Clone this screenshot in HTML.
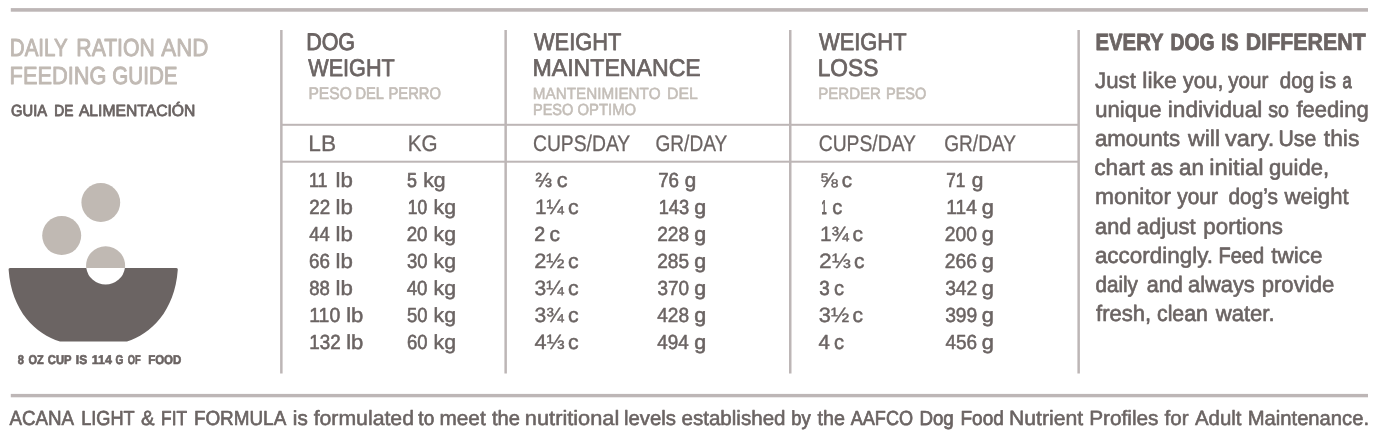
<!DOCTYPE html>
<html lang="en"><head><meta charset="utf-8"><title>Daily Ration and Feeding Guide</title>
<style>
html,body{margin:0;padding:0;background:#fff}
body{width:1400px;height:434px;overflow:hidden}
svg{display:block}
text{font-family:"Liberation Sans",sans-serif;white-space:pre;text-rendering:geometricPrecision}
</style></head><body>
<svg width="1400" height="434" viewBox="0 0 1400 434">
<rect width="1400" height="434" fill="#fff"/>
<g fill="#bdb6b6">
<rect x="10.8" y="8.1" width="1357.2" height="3.6"/>
<rect x="10.8" y="393.9" width="1357.2" height="3.4"/>
<rect x="280.1" y="30" width="2.5" height="343.5"/>
<rect x="504.4" y="30" width="2.5" height="343.5"/>
<rect x="789.0" y="30" width="2.5" height="343.5"/>
<rect x="1077.4" y="30" width="2.5" height="343.5"/>
<rect x="281" y="123.8" width="797" height="2"/>
<rect x="281" y="160.7" width="797" height="2"/>
</g>
<g fill="#c0b9b3"><circle cx="100.8" cy="202.5" r="19.4"/><circle cx="61.7" cy="235.6" r="19.5"/><path d="M86.24 268 A19.5 19.5 0 1 1 124.96 268 Z"/></g>
<path fill="#6b6463" d="M10 268 H176.4 Q178 268 177.8 269.6 C174.8 311.7 150.5 334.2 127 341.6 H60 C36 334.2 11.6 311.7 8.6 269.6 Q8.4 268 10 268 Z"/>
<path fill="#fff" d="M86.3 267.9 H124.9 A19.5 19.5 0 0 1 86.3 267.9 Z"/>
<text fill="#c0b9b3" stroke="#c0b9b3" stroke-linejoin="round"><tspan id="t0" x="9.87" y="56" font-size="24.61" stroke-width="0.97" textLength="57.78" lengthAdjust="spacingAndGlyphs">DAILY</tspan> <tspan id="t1" x="76.35" y="56" font-size="24.65" stroke-width="0.94" textLength="78.40" lengthAdjust="spacingAndGlyphs">RATION</tspan> <tspan id="t2" x="161.25" y="56" font-size="24.84" stroke-width="0.81" textLength="47.20" lengthAdjust="spacingAndGlyphs">AND</tspan></text>
<text fill="#c0b9b3" stroke="#c0b9b3" stroke-linejoin="round"><tspan id="t3" x="9.61" y="84" font-size="24.73" stroke-width="0.88" textLength="96.98" lengthAdjust="spacingAndGlyphs">FEEDING</tspan> <tspan id="t4" x="112.34" y="84" font-size="24.63" stroke-width="0.96" textLength="65.17" lengthAdjust="spacingAndGlyphs">GUIDE</tspan></text>
<text fill="#6b6463" stroke="#6b6463" stroke-linejoin="round"><tspan id="t5" x="11.10" y="116" font-size="16.18" stroke-width="0.87" textLength="36.00" lengthAdjust="spacingAndGlyphs">GUIA</tspan> <tspan id="t6" x="54.21" y="116" font-size="16.04" stroke-width="0.97" textLength="19.10" lengthAdjust="spacingAndGlyphs">DE</tspan> <tspan id="t7" x="78.90" y="116" font-size="16.27" stroke-width="0.81" textLength="116.50" lengthAdjust="spacingAndGlyphs">ALIMENTACIÓN</tspan></text>
<text fill="#6b6463" stroke="#6b6463" stroke-linejoin="round" font-weight="700"><tspan id="t8" x="17.85" y="364" font-size="12.73" stroke-width="0.64" textLength="6.15" lengthAdjust="spacingAndGlyphs">8</tspan> <tspan id="t9" x="28.39" y="364" font-size="12.73" stroke-width="0.64" textLength="15.26" lengthAdjust="spacingAndGlyphs">OZ</tspan> <tspan id="t10" x="47.85" y="364" font-size="12.73" stroke-width="0.64" textLength="23.75" lengthAdjust="spacingAndGlyphs">CUP</tspan> <tspan id="t11" x="75.82" y="364" font-size="12.73" stroke-width="0.64" textLength="11.29" lengthAdjust="spacingAndGlyphs">IS</tspan> <tspan id="t12" x="91.64" y="364" font-size="12.82" stroke-width="0.58" textLength="20.25" lengthAdjust="spacingAndGlyphs">114</tspan> <tspan id="t13" x="115.55" y="364" font-size="12.73" stroke-width="0.64" textLength="7.88" lengthAdjust="spacingAndGlyphs">G</tspan> <tspan id="t14" x="127.85" y="364" font-size="12.73" stroke-width="0.64" textLength="12.96" lengthAdjust="spacingAndGlyphs">OF</tspan> <tspan id="t15" x="148.14" y="364" font-size="12.73" stroke-width="0.64" textLength="33.27" lengthAdjust="spacingAndGlyphs">FOOD</tspan></text>
<text fill="#6b6463" stroke="#6b6463" stroke-linejoin="round"><tspan id="t16" x="306.18" y="50" font-size="24.01" stroke-width="0.88" textLength="48.89" lengthAdjust="spacingAndGlyphs">DOG</tspan></text>
<text fill="#6b6463" stroke="#6b6463" stroke-linejoin="round"><tspan id="t17" x="308.25" y="76" font-size="24.15" stroke-width="0.78" textLength="86.50" lengthAdjust="spacingAndGlyphs">WEIGHT</tspan></text>
<text fill="#c4beb8" stroke="#c4beb8" stroke-linejoin="round"><tspan id="t18" x="308.46" y="99" font-size="16.92" stroke-width="0.66" textLength="43.31" lengthAdjust="spacingAndGlyphs">PESO</tspan> <tspan id="t19" x="355.47" y="99" font-size="16.83" stroke-width="0.72" textLength="28.54" lengthAdjust="spacingAndGlyphs">DEL</tspan> <tspan id="t20" x="388.48" y="99" font-size="16.85" stroke-width="0.71" textLength="52.54" lengthAdjust="spacingAndGlyphs">PERRO</tspan></text>
<text fill="#6b6463" stroke="#6b6463" stroke-linejoin="round"><tspan id="t21" x="534.00" y="50" font-size="24.17" stroke-width="0.77" textLength="87.25" lengthAdjust="spacingAndGlyphs">WEIGHT</tspan></text>
<text fill="#6b6463" stroke="#6b6463" stroke-linejoin="round"><tspan id="t22" x="532.48" y="76" font-size="24.26" stroke-width="0.71" textLength="168.28" lengthAdjust="spacingAndGlyphs">MAINTENANCE</tspan></text>
<text fill="#c4beb8" stroke="#c4beb8" stroke-linejoin="round"><tspan id="t23" x="532.84" y="99" font-size="16.18" stroke-width="0.57" textLength="127.67" lengthAdjust="spacingAndGlyphs">MANTENIMIENTO</tspan> <tspan id="t24" x="666.96" y="99" font-size="16.19" stroke-width="0.56" textLength="30.81" lengthAdjust="spacingAndGlyphs">DEL</tspan></text>
<text fill="#c4beb8" stroke="#c4beb8" stroke-linejoin="round"><tspan id="t25" x="532.97" y="115" font-size="16.07" stroke-width="0.65" textLength="40.40" lengthAdjust="spacingAndGlyphs">PESO</tspan> <tspan id="t26" x="577.49" y="115" font-size="16.13" stroke-width="0.60" textLength="58.56" lengthAdjust="spacingAndGlyphs">OPTIMO</tspan></text>
<text fill="#6b6463" stroke="#6b6463" stroke-linejoin="round"><tspan id="t27" x="819.00" y="50" font-size="24.18" stroke-width="0.77" textLength="87.50" lengthAdjust="spacingAndGlyphs">WEIGHT</tspan></text>
<text fill="#6b6463" stroke="#6b6463" stroke-linejoin="round"><tspan id="t28" x="817.69" y="76" font-size="24.17" stroke-width="0.77" textLength="60.59" lengthAdjust="spacingAndGlyphs">LOSS</tspan></text>
<text fill="#c4beb8" stroke="#c4beb8" stroke-linejoin="round"><tspan id="t29" x="818.28" y="99" font-size="16.27" stroke-width="0.61" textLength="62.73" lengthAdjust="spacingAndGlyphs">PERDER</tspan> <tspan id="t30" x="885.97" y="99" font-size="16.19" stroke-width="0.66" textLength="40.40" lengthAdjust="spacingAndGlyphs">PESO</tspan></text>
<text fill="#6b6463" stroke="#6b6463" stroke-linejoin="round"><tspan id="t31" x="308.33" y="151" font-size="22.43" stroke-width="0.27" textLength="27.78" lengthAdjust="spacingAndGlyphs">LB</tspan></text>
<text fill="#6b6463" stroke="#6b6463" stroke-linejoin="round"><tspan id="t32" x="407.83" y="151" font-size="22.43" stroke-width="0.27" textLength="29.82" lengthAdjust="spacingAndGlyphs">KG</tspan></text>
<text fill="#6b6463" stroke="#6b6463" stroke-linejoin="round"><tspan id="t33" x="532.99" y="151" font-size="22.43" stroke-width="0.27" textLength="97.26" lengthAdjust="spacingAndGlyphs">CUPS/DAY</tspan></text>
<text fill="#6b6463" stroke="#6b6463" stroke-linejoin="round"><tspan id="t34" x="655.49" y="151" font-size="22.43" stroke-width="0.27" textLength="71.76" lengthAdjust="spacingAndGlyphs">GR/DAY</tspan></text>
<text fill="#6b6463" stroke="#6b6463" stroke-linejoin="round"><tspan id="t35" x="818.74" y="151" font-size="22.43" stroke-width="0.27" textLength="97.26" lengthAdjust="spacingAndGlyphs">CUPS/DAY</tspan></text>
<text fill="#6b6463" stroke="#6b6463" stroke-linejoin="round"><tspan id="t36" x="944.24" y="151" font-size="22.43" stroke-width="0.27" textLength="71.76" lengthAdjust="spacingAndGlyphs">GR/DAY</tspan></text>
<text fill="#6b6463" stroke="#6b6463" stroke-linejoin="round"><tspan id="t37" x="309.06" y="187" font-size="20.21" stroke-width="0.69" textLength="18.48" lengthAdjust="spacingAndGlyphs">11</tspan> <tspan id="t38" x="335.55" y="187" font-size="20.56" stroke-width="0.46" textLength="17.34" lengthAdjust="spacingAndGlyphs">lb</tspan></text>
<text fill="#6b6463" stroke="#6b6463" stroke-linejoin="round"><tspan id="t39" x="406.96" y="187" font-size="20.18" stroke-width="0.72" textLength="9.93" lengthAdjust="spacingAndGlyphs">5</tspan> <tspan id="t40" x="423.19" y="187" font-size="20.51" stroke-width="0.49" textLength="22.42" lengthAdjust="spacingAndGlyphs">kg</tspan></text>
<text fill="#6b6463" stroke="#6b6463" stroke-linejoin="round"><tspan id="t41" x="535.40" y="187" font-size="20.50" stroke-width="0.49" textLength="16.25" lengthAdjust="spacingAndGlyphs">⅔</tspan> <tspan id="t42" x="556.79" y="187" font-size="20.54" stroke-width="0.47" textLength="10.81" lengthAdjust="spacingAndGlyphs">c</tspan></text>
<text fill="#6b6463" stroke="#6b6463" stroke-linejoin="round"><tspan id="t43" x="658.15" y="187" font-size="20.35" stroke-width="0.60" textLength="20.84" lengthAdjust="spacingAndGlyphs">76</tspan> <tspan id="t44" x="684.72" y="187" font-size="20.39" stroke-width="0.57" textLength="11.48" lengthAdjust="spacingAndGlyphs">g</tspan></text>
<text fill="#6b6463" stroke="#6b6463" stroke-linejoin="round"><tspan id="t45" x="819.87" y="187" font-size="20.60" stroke-width="0.43" textLength="18.06" lengthAdjust="spacingAndGlyphs">⅝</tspan> <tspan id="t46" x="841.78" y="187" font-size="20.45" stroke-width="0.53" textLength="10.29" lengthAdjust="spacingAndGlyphs">c</tspan></text>
<text fill="#6b6463" stroke="#6b6463" stroke-linejoin="round"><tspan id="t47" x="946.17" y="187" font-size="20.18" stroke-width="0.72" textLength="19.02" lengthAdjust="spacingAndGlyphs">71</tspan> <tspan id="t48" x="971.71" y="187" font-size="20.41" stroke-width="0.56" textLength="11.65" lengthAdjust="spacingAndGlyphs">g</tspan></text>
<text fill="#6b6463" stroke="#6b6463" stroke-linejoin="round"><tspan id="t49" x="309.31" y="214" font-size="20.35" stroke-width="0.60" textLength="20.84" lengthAdjust="spacingAndGlyphs">22</tspan> <tspan id="t50" x="335.55" y="214" font-size="20.56" stroke-width="0.46" textLength="17.34" lengthAdjust="spacingAndGlyphs">lb</tspan></text>
<text fill="#6b6463" stroke="#6b6463" stroke-linejoin="round"><tspan id="t51" x="407.72" y="214" font-size="20.20" stroke-width="0.70" textLength="19.37" lengthAdjust="spacingAndGlyphs">10</tspan> <tspan id="t52" x="433.53" y="214" font-size="20.51" stroke-width="0.49" textLength="22.45" lengthAdjust="spacingAndGlyphs">kg</tspan></text>
<text fill="#6b6463" stroke="#6b6463" stroke-linejoin="round"><tspan id="t53" x="534.91" y="214" font-size="20.58" stroke-width="0.44" textLength="28.88" lengthAdjust="spacingAndGlyphs">1¼</tspan> <tspan id="t54" x="567.95" y="214" font-size="20.52" stroke-width="0.48" textLength="10.62" lengthAdjust="spacingAndGlyphs">c</tspan></text>
<text fill="#6b6463" stroke="#6b6463" stroke-linejoin="round"><tspan id="t55" x="658.64" y="214" font-size="20.31" stroke-width="0.62" textLength="30.39" lengthAdjust="spacingAndGlyphs">143</tspan> <tspan id="t56" x="694.24" y="214" font-size="20.41" stroke-width="0.56" textLength="11.94" lengthAdjust="spacingAndGlyphs">g</tspan></text>
<text fill="#6b6463" stroke="#6b6463" stroke-linejoin="round"><tspan id="t57" x="821.59" y="214" font-size="19.82" stroke-width="0.96" textLength="5.24" lengthAdjust="spacingAndGlyphs">1</tspan> <tspan id="t58" x="832.25" y="214" font-size="20.45" stroke-width="0.53" textLength="10.01" lengthAdjust="spacingAndGlyphs">c</tspan></text>
<text fill="#6b6463" stroke="#6b6463" stroke-linejoin="round"><tspan id="t59" x="946.34" y="214" font-size="20.41" stroke-width="0.56" textLength="30.42" lengthAdjust="spacingAndGlyphs">114</tspan> <tspan id="t60" x="981.74" y="214" font-size="20.43" stroke-width="0.55" textLength="12.07" lengthAdjust="spacingAndGlyphs">g</tspan></text>
<text fill="#6b6463" stroke="#6b6463" stroke-linejoin="round"><tspan id="t61" x="309.20" y="241" font-size="20.40" stroke-width="0.56" textLength="20.41" lengthAdjust="spacingAndGlyphs">44</tspan> <tspan id="t62" x="335.55" y="241" font-size="20.56" stroke-width="0.46" textLength="17.34" lengthAdjust="spacingAndGlyphs">lb</tspan></text>
<text fill="#6b6463" stroke="#6b6463" stroke-linejoin="round"><tspan id="t63" x="406.66" y="241" font-size="20.37" stroke-width="0.59" textLength="20.87" lengthAdjust="spacingAndGlyphs">20</tspan> <tspan id="t64" x="433.53" y="241" font-size="20.51" stroke-width="0.49" textLength="22.45" lengthAdjust="spacingAndGlyphs">kg</tspan></text>
<text fill="#6b6463" stroke="#6b6463" stroke-linejoin="round"><tspan id="t65" x="534.27" y="241" font-size="20.34" stroke-width="0.61" textLength="10.96" lengthAdjust="spacingAndGlyphs">2</tspan> <tspan id="t66" x="549.64" y="241" font-size="20.47" stroke-width="0.52" textLength="10.44" lengthAdjust="spacingAndGlyphs">c</tspan></text>
<text fill="#6b6463" stroke="#6b6463" stroke-linejoin="round"><tspan id="t67" x="657.22" y="241" font-size="20.42" stroke-width="0.55" textLength="31.80" lengthAdjust="spacingAndGlyphs">228</tspan> <tspan id="t68" x="694.24" y="241" font-size="20.41" stroke-width="0.56" textLength="11.94" lengthAdjust="spacingAndGlyphs">g</tspan></text>
<text fill="#6b6463" stroke="#6b6463" stroke-linejoin="round"><tspan id="t69" x="819.91" y="241" font-size="20.58" stroke-width="0.44" textLength="28.88" lengthAdjust="spacingAndGlyphs">1¾</tspan> <tspan id="t70" x="852.45" y="241" font-size="20.51" stroke-width="0.49" textLength="10.48" lengthAdjust="spacingAndGlyphs">c</tspan></text>
<text fill="#6b6463" stroke="#6b6463" stroke-linejoin="round"><tspan id="t71" x="944.87" y="241" font-size="20.44" stroke-width="0.53" textLength="32.15" lengthAdjust="spacingAndGlyphs">200</tspan> <tspan id="t72" x="981.74" y="241" font-size="20.43" stroke-width="0.55" textLength="12.07" lengthAdjust="spacingAndGlyphs">g</tspan></text>
<text fill="#6b6463" stroke="#6b6463" stroke-linejoin="round"><tspan id="t73" x="309.02" y="268" font-size="20.37" stroke-width="0.59" textLength="20.86" lengthAdjust="spacingAndGlyphs">66</tspan> <tspan id="t74" x="335.55" y="268" font-size="20.56" stroke-width="0.46" textLength="17.34" lengthAdjust="spacingAndGlyphs">lb</tspan></text>
<text fill="#6b6463" stroke="#6b6463" stroke-linejoin="round"><tspan id="t75" x="406.93" y="268" font-size="20.37" stroke-width="0.59" textLength="20.59" lengthAdjust="spacingAndGlyphs">30</tspan> <tspan id="t76" x="433.53" y="268" font-size="20.51" stroke-width="0.49" textLength="22.45" lengthAdjust="spacingAndGlyphs">kg</tspan></text>
<text fill="#6b6463" stroke="#6b6463" stroke-linejoin="round"><tspan id="t77" x="534.22" y="268" font-size="20.65" stroke-width="0.39" textLength="30.35" lengthAdjust="spacingAndGlyphs">2½</tspan> <tspan id="t78" x="567.95" y="268" font-size="20.52" stroke-width="0.48" textLength="10.62" lengthAdjust="spacingAndGlyphs">c</tspan></text>
<text fill="#6b6463" stroke="#6b6463" stroke-linejoin="round"><tspan id="t79" x="657.22" y="268" font-size="20.42" stroke-width="0.55" textLength="31.80" lengthAdjust="spacingAndGlyphs">285</tspan> <tspan id="t80" x="694.24" y="268" font-size="20.41" stroke-width="0.56" textLength="11.94" lengthAdjust="spacingAndGlyphs">g</tspan></text>
<text fill="#6b6463" stroke="#6b6463" stroke-linejoin="round"><tspan id="t81" x="818.96" y="268" font-size="20.72" stroke-width="0.35" textLength="31.80" lengthAdjust="spacingAndGlyphs">2⅓</tspan> <tspan id="t82" x="854.14" y="268" font-size="20.47" stroke-width="0.52" textLength="10.44" lengthAdjust="spacingAndGlyphs">c</tspan></text>
<text fill="#6b6463" stroke="#6b6463" stroke-linejoin="round"><tspan id="t83" x="944.87" y="268" font-size="20.44" stroke-width="0.53" textLength="32.15" lengthAdjust="spacingAndGlyphs">266</tspan> <tspan id="t84" x="981.74" y="268" font-size="20.43" stroke-width="0.55" textLength="12.07" lengthAdjust="spacingAndGlyphs">g</tspan></text>
<text fill="#6b6463" stroke="#6b6463" stroke-linejoin="round"><tspan id="t85" x="309.27" y="295" font-size="20.37" stroke-width="0.59" textLength="20.60" lengthAdjust="spacingAndGlyphs">88</tspan> <tspan id="t86" x="335.55" y="295" font-size="20.56" stroke-width="0.46" textLength="17.34" lengthAdjust="spacingAndGlyphs">lb</tspan></text>
<text fill="#6b6463" stroke="#6b6463" stroke-linejoin="round"><tspan id="t87" x="406.74" y="295" font-size="20.39" stroke-width="0.57" textLength="20.78" lengthAdjust="spacingAndGlyphs">40</tspan> <tspan id="t88" x="433.53" y="295" font-size="20.51" stroke-width="0.49" textLength="22.45" lengthAdjust="spacingAndGlyphs">kg</tspan></text>
<text fill="#6b6463" stroke="#6b6463" stroke-linejoin="round"><tspan id="t89" x="534.50" y="295" font-size="20.65" stroke-width="0.39" textLength="29.30" lengthAdjust="spacingAndGlyphs">3¼</tspan> <tspan id="t90" x="567.95" y="295" font-size="20.52" stroke-width="0.48" textLength="10.62" lengthAdjust="spacingAndGlyphs">c</tspan></text>
<text fill="#6b6463" stroke="#6b6463" stroke-linejoin="round"><tspan id="t91" x="657.44" y="295" font-size="20.43" stroke-width="0.54" textLength="31.58" lengthAdjust="spacingAndGlyphs">370</tspan> <tspan id="t92" x="694.24" y="295" font-size="20.41" stroke-width="0.56" textLength="11.94" lengthAdjust="spacingAndGlyphs">g</tspan></text>
<text fill="#6b6463" stroke="#6b6463" stroke-linejoin="round"><tspan id="t93" x="819.27" y="295" font-size="20.32" stroke-width="0.62" textLength="10.48" lengthAdjust="spacingAndGlyphs">3</tspan> <tspan id="t94" x="833.96" y="295" font-size="20.45" stroke-width="0.53" textLength="10.01" lengthAdjust="spacingAndGlyphs">c</tspan></text>
<text fill="#6b6463" stroke="#6b6463" stroke-linejoin="round"><tspan id="t95" x="945.13" y="295" font-size="20.44" stroke-width="0.53" textLength="32.15" lengthAdjust="spacingAndGlyphs">342</tspan> <tspan id="t96" x="981.74" y="295" font-size="20.43" stroke-width="0.55" textLength="12.07" lengthAdjust="spacingAndGlyphs">g</tspan></text>
<text fill="#6b6463" stroke="#6b6463" stroke-linejoin="round"><tspan id="t97" x="309.29" y="322" font-size="20.43" stroke-width="0.55" textLength="30.90" lengthAdjust="spacingAndGlyphs">110</tspan> <tspan id="t98" x="346.21" y="322" font-size="20.54" stroke-width="0.47" textLength="17.17" lengthAdjust="spacingAndGlyphs">lb</tspan></text>
<text fill="#6b6463" stroke="#6b6463" stroke-linejoin="round"><tspan id="t99" x="406.97" y="322" font-size="20.35" stroke-width="0.60" textLength="20.55" lengthAdjust="spacingAndGlyphs">50</tspan> <tspan id="t100" x="433.53" y="322" font-size="20.51" stroke-width="0.49" textLength="22.45" lengthAdjust="spacingAndGlyphs">kg</tspan></text>
<text fill="#6b6463" stroke="#6b6463" stroke-linejoin="round"><tspan id="t101" x="534.50" y="322" font-size="20.65" stroke-width="0.39" textLength="29.30" lengthAdjust="spacingAndGlyphs">3¾</tspan> <tspan id="t102" x="567.95" y="322" font-size="20.52" stroke-width="0.48" textLength="10.62" lengthAdjust="spacingAndGlyphs">c</tspan></text>
<text fill="#6b6463" stroke="#6b6463" stroke-linejoin="round"><tspan id="t103" x="657.24" y="322" font-size="20.45" stroke-width="0.53" textLength="31.77" lengthAdjust="spacingAndGlyphs">428</tspan> <tspan id="t104" x="694.24" y="322" font-size="20.41" stroke-width="0.56" textLength="11.94" lengthAdjust="spacingAndGlyphs">g</tspan></text>
<text fill="#6b6463" stroke="#6b6463" stroke-linejoin="round"><tspan id="t105" x="818.87" y="322" font-size="20.65" stroke-width="0.39" textLength="30.34" lengthAdjust="spacingAndGlyphs">3½</tspan> <tspan id="t106" x="852.45" y="322" font-size="20.51" stroke-width="0.49" textLength="10.48" lengthAdjust="spacingAndGlyphs">c</tspan></text>
<text fill="#6b6463" stroke="#6b6463" stroke-linejoin="round"><tspan id="t107" x="945.13" y="322" font-size="20.44" stroke-width="0.53" textLength="32.15" lengthAdjust="spacingAndGlyphs">399</tspan> <tspan id="t108" x="981.74" y="322" font-size="20.43" stroke-width="0.55" textLength="12.07" lengthAdjust="spacingAndGlyphs">g</tspan></text>
<text fill="#6b6463" stroke="#6b6463" stroke-linejoin="round"><tspan id="t109" x="309.28" y="349" font-size="20.36" stroke-width="0.59" textLength="31.36" lengthAdjust="spacingAndGlyphs">132</tspan> <tspan id="t110" x="346.21" y="349" font-size="20.54" stroke-width="0.47" textLength="17.17" lengthAdjust="spacingAndGlyphs">lb</tspan></text>
<text fill="#6b6463" stroke="#6b6463" stroke-linejoin="round"><tspan id="t111" x="406.96" y="349" font-size="20.35" stroke-width="0.60" textLength="20.57" lengthAdjust="spacingAndGlyphs">60</tspan> <tspan id="t112" x="433.53" y="349" font-size="20.51" stroke-width="0.49" textLength="22.45" lengthAdjust="spacingAndGlyphs">kg</tspan></text>
<text fill="#6b6463" stroke="#6b6463" stroke-linejoin="round"><tspan id="t113" x="534.40" y="349" font-size="20.67" stroke-width="0.38" textLength="30.16" lengthAdjust="spacingAndGlyphs">4⅓</tspan> <tspan id="t114" x="567.95" y="349" font-size="20.52" stroke-width="0.48" textLength="10.62" lengthAdjust="spacingAndGlyphs">c</tspan></text>
<text fill="#6b6463" stroke="#6b6463" stroke-linejoin="round"><tspan id="t115" x="657.25" y="349" font-size="20.45" stroke-width="0.53" textLength="31.51" lengthAdjust="spacingAndGlyphs">494</tspan> <tspan id="t116" x="694.24" y="349" font-size="20.41" stroke-width="0.56" textLength="11.94" lengthAdjust="spacingAndGlyphs">g</tspan></text>
<text fill="#6b6463" stroke="#6b6463" stroke-linejoin="round"><tspan id="t117" x="818.59" y="349" font-size="20.51" stroke-width="0.49" textLength="11.33" lengthAdjust="spacingAndGlyphs">4</tspan> <tspan id="t118" x="833.96" y="349" font-size="20.45" stroke-width="0.53" textLength="10.01" lengthAdjust="spacingAndGlyphs">c</tspan></text>
<text fill="#6b6463" stroke="#6b6463" stroke-linejoin="round"><tspan id="t119" x="945.40" y="349" font-size="20.44" stroke-width="0.53" textLength="31.62" lengthAdjust="spacingAndGlyphs">456</tspan> <tspan id="t120" x="981.74" y="349" font-size="20.43" stroke-width="0.55" textLength="12.07" lengthAdjust="spacingAndGlyphs">g</tspan></text>
<text fill="#6b6463" stroke="#6b6463" stroke-linejoin="round" font-weight="700"><tspan id="t121" x="1095.49" y="50" font-size="23.48" stroke-width="0.85" textLength="68.21" lengthAdjust="spacingAndGlyphs">EVERY</tspan> <tspan id="t122" x="1170.57" y="50" font-size="23.30" stroke-width="0.97" textLength="44.01" lengthAdjust="spacingAndGlyphs">DOG</tspan> <tspan id="t123" x="1221.20" y="50" font-size="23.30" stroke-width="0.97" textLength="17.42" lengthAdjust="spacingAndGlyphs">IS</tspan> <tspan id="t124" x="1245.84" y="50" font-size="23.65" stroke-width="0.73" textLength="120.01" lengthAdjust="spacingAndGlyphs">DIFFERENT</tspan></text>
<text fill="#6b6463" stroke="#6b6463" stroke-linejoin="round"><tspan id="t125" x="1095.00" y="88" font-size="22.55" stroke-width="0.58" textLength="40.85" lengthAdjust="spacingAndGlyphs">Just</tspan> <tspan id="t126" x="1142.29" y="88" font-size="22.50" stroke-width="0.62" textLength="34.51" lengthAdjust="spacingAndGlyphs">like</tspan> <tspan id="t127" x="1183.05" y="88" font-size="22.42" stroke-width="0.68" textLength="40.35" lengthAdjust="spacingAndGlyphs">you,</tspan> <tspan id="t128" x="1228.25" y="88" font-size="22.41" stroke-width="0.68" textLength="40.20" lengthAdjust="spacingAndGlyphs">your</tspan> <tspan id="t129" x="1279.83" y="88" font-size="22.31" stroke-width="0.75" textLength="34.26" lengthAdjust="spacingAndGlyphs">dog</tspan> <tspan id="t130" x="1319.27" y="88" font-size="22.43" stroke-width="0.67" textLength="16.83" lengthAdjust="spacingAndGlyphs">is</tspan> <tspan id="t131" x="1342.45" y="88" font-size="21.91" stroke-width="1.02" textLength="9.15" lengthAdjust="spacingAndGlyphs">a</tspan></text>
<text fill="#6b6463" stroke="#6b6463" stroke-linejoin="round"><tspan id="t132" x="1095.32" y="117" font-size="22.48" stroke-width="0.63" textLength="66.30" lengthAdjust="spacingAndGlyphs">unique</tspan> <tspan id="t133" x="1167.72" y="117" font-size="22.54" stroke-width="0.59" textLength="94.61" lengthAdjust="spacingAndGlyphs">individual</tspan> <tspan id="t134" x="1268.19" y="117" font-size="22.25" stroke-width="0.80" textLength="20.67" lengthAdjust="spacingAndGlyphs">so</tspan> <tspan id="t135" x="1296.50" y="117" font-size="22.50" stroke-width="0.62" textLength="72.17" lengthAdjust="spacingAndGlyphs">feeding</tspan></text>
<text fill="#6b6463" stroke="#6b6463" stroke-linejoin="round"><tspan id="t136" x="1094.89" y="146" font-size="22.52" stroke-width="0.61" textLength="85.27" lengthAdjust="spacingAndGlyphs">amounts</tspan> <tspan id="t137" x="1188.06" y="146" font-size="22.57" stroke-width="0.57" textLength="32.08" lengthAdjust="spacingAndGlyphs">will</tspan> <tspan id="t138" x="1224.90" y="146" font-size="22.59" stroke-width="0.56" textLength="49.36" lengthAdjust="spacingAndGlyphs">vary.</tspan> <tspan id="t139" x="1278.48" y="146" font-size="22.36" stroke-width="0.71" textLength="37.70" lengthAdjust="spacingAndGlyphs">Use</tspan> <tspan id="t140" x="1323.80" y="146" font-size="22.58" stroke-width="0.57" textLength="35.56" lengthAdjust="spacingAndGlyphs">this</tspan></text>
<text fill="#6b6463" stroke="#6b6463" stroke-linejoin="round"><tspan id="t141" x="1094.24" y="175" font-size="22.56" stroke-width="0.58" textLength="50.46" lengthAdjust="spacingAndGlyphs">chart</tspan> <tspan id="t142" x="1150.82" y="175" font-size="22.35" stroke-width="0.72" textLength="22.35" lengthAdjust="spacingAndGlyphs">as</tspan> <tspan id="t143" x="1179.10" y="175" font-size="22.43" stroke-width="0.67" textLength="24.93" lengthAdjust="spacingAndGlyphs">an</tspan> <tspan id="t144" x="1209.18" y="175" font-size="22.58" stroke-width="0.56" textLength="54.43" lengthAdjust="spacingAndGlyphs">initial</tspan> <tspan id="t145" x="1269.03" y="175" font-size="22.45" stroke-width="0.65" textLength="59.99" lengthAdjust="spacingAndGlyphs">guide,</tspan></text>
<text fill="#6b6463" stroke="#6b6463" stroke-linejoin="round"><tspan id="t146" x="1095.08" y="204" font-size="22.56" stroke-width="0.58" textLength="75.92" lengthAdjust="spacingAndGlyphs">monitor</tspan> <tspan id="t147" x="1177.25" y="204" font-size="22.44" stroke-width="0.66" textLength="40.60" lengthAdjust="spacingAndGlyphs">your</tspan> <tspan id="t148" x="1228.49" y="204" font-size="22.40" stroke-width="0.69" textLength="49.57" lengthAdjust="spacingAndGlyphs">dog’s</tspan> <tspan id="t149" x="1284.60" y="204" font-size="22.55" stroke-width="0.59" textLength="64.10" lengthAdjust="spacingAndGlyphs">weight</tspan></text>
<text fill="#6b6463" stroke="#6b6463" stroke-linejoin="round"><tspan id="t150" x="1095.12" y="234" font-size="22.42" stroke-width="0.67" textLength="36.12" lengthAdjust="spacingAndGlyphs">and</tspan> <tspan id="t151" x="1136.69" y="234" font-size="22.52" stroke-width="0.61" textLength="59.00" lengthAdjust="spacingAndGlyphs">adjust</tspan> <tspan id="t152" x="1203.33" y="234" font-size="22.52" stroke-width="0.61" textLength="79.53" lengthAdjust="spacingAndGlyphs">portions</tspan></text>
<text fill="#6b6463" stroke="#6b6463" stroke-linejoin="round"><tspan id="t153" x="1094.89" y="263" font-size="22.53" stroke-width="0.60" textLength="118.10" lengthAdjust="spacingAndGlyphs">accordingly.</tspan> <tspan id="t154" x="1218.54" y="263" font-size="22.24" stroke-width="0.80" textLength="45.56" lengthAdjust="spacingAndGlyphs">Feed</tspan> <tspan id="t155" x="1271.20" y="263" font-size="22.53" stroke-width="0.60" textLength="51.21" lengthAdjust="spacingAndGlyphs">twice</tspan></text>
<text fill="#6b6463" stroke="#6b6463" stroke-linejoin="round"><tspan id="t156" x="1095.50" y="292" font-size="22.40" stroke-width="0.69" textLength="42.45" lengthAdjust="spacingAndGlyphs">daily</tspan> <tspan id="t157" x="1146.82" y="292" font-size="22.40" stroke-width="0.69" textLength="36.03" lengthAdjust="spacingAndGlyphs">and</tspan> <tspan id="t158" x="1188.04" y="292" font-size="22.48" stroke-width="0.63" textLength="66.77" lengthAdjust="spacingAndGlyphs">always</tspan> <tspan id="t159" x="1261.67" y="292" font-size="22.50" stroke-width="0.62" textLength="72.65" lengthAdjust="spacingAndGlyphs">provide</tspan></text>
<text fill="#6b6463" stroke="#6b6463" stroke-linejoin="round"><tspan id="t160" x="1096.00" y="321" font-size="22.47" stroke-width="0.64" textLength="55.15" lengthAdjust="spacingAndGlyphs">fresh,</tspan> <tspan id="t161" x="1156.98" y="321" font-size="22.41" stroke-width="0.68" textLength="51.00" lengthAdjust="spacingAndGlyphs">clean</tspan> <tspan id="t162" x="1215.71" y="321" font-size="22.49" stroke-width="0.62" textLength="58.93" lengthAdjust="spacingAndGlyphs">water.</tspan></text>
<text fill="#6b6463" stroke="#6b6463" stroke-linejoin="round"><tspan id="t163" x="9.45" y="425" font-size="20.41" stroke-width="0.66" textLength="64.66" lengthAdjust="spacingAndGlyphs">ACANA</tspan> <tspan id="t164" x="81.17" y="425" font-size="20.29" stroke-width="0.74" textLength="53.48" lengthAdjust="spacingAndGlyphs">LIGHT</tspan> <tspan id="t165" x="140.98" y="425" font-size="20.46" stroke-width="0.62" textLength="13.52" lengthAdjust="spacingAndGlyphs">&amp;</tspan> <tspan id="t166" x="161.10" y="425" font-size="20.16" stroke-width="0.83" textLength="25.90" lengthAdjust="spacingAndGlyphs">FIT</tspan> <tspan id="t167" x="193.89" y="425" font-size="20.39" stroke-width="0.67" textLength="92.36" lengthAdjust="spacingAndGlyphs">FORMULA</tspan> <tspan id="t168" x="292.85" y="425" font-size="20.39" stroke-width="0.67" textLength="14.88" lengthAdjust="spacingAndGlyphs">is</tspan> <tspan id="t169" x="313.65" y="425" font-size="20.59" stroke-width="0.53" textLength="100.36" lengthAdjust="spacingAndGlyphs">formulated</tspan> <tspan id="t170" x="418.35" y="425" font-size="20.37" stroke-width="0.69" textLength="15.86" lengthAdjust="spacingAndGlyphs">to</tspan> <tspan id="t171" x="439.48" y="425" font-size="20.54" stroke-width="0.57" textLength="46.22" lengthAdjust="spacingAndGlyphs">meet</tspan> <tspan id="t172" x="492.00" y="425" font-size="20.49" stroke-width="0.60" textLength="28.01" lengthAdjust="spacingAndGlyphs">the</tspan> <tspan id="t173" x="524.87" y="425" font-size="20.60" stroke-width="0.53" textLength="94.42" lengthAdjust="spacingAndGlyphs">nutritional</tspan> <tspan id="t174" x="623.97" y="425" font-size="20.48" stroke-width="0.61" textLength="52.05" lengthAdjust="spacingAndGlyphs">levels</tspan> <tspan id="t175" x="681.49" y="425" font-size="20.53" stroke-width="0.58" textLength="104.02" lengthAdjust="spacingAndGlyphs">established</tspan> <tspan id="t176" x="791.23" y="425" font-size="20.32" stroke-width="0.72" textLength="19.51" lengthAdjust="spacingAndGlyphs">by</tspan> <tspan id="t177" x="817.50" y="425" font-size="20.44" stroke-width="0.64" textLength="27.46" lengthAdjust="spacingAndGlyphs">the</tspan> <tspan id="t178" x="850.75" y="425" font-size="20.32" stroke-width="0.72" textLength="62.25" lengthAdjust="spacingAndGlyphs">AAFCO</tspan> <tspan id="t179" x="919.44" y="425" font-size="20.28" stroke-width="0.75" textLength="34.31" lengthAdjust="spacingAndGlyphs">Dog</tspan> <tspan id="t180" x="960.50" y="425" font-size="20.33" stroke-width="0.71" textLength="43.30" lengthAdjust="spacingAndGlyphs">Food</tspan> <tspan id="t181" x="1008.97" y="425" font-size="20.57" stroke-width="0.55" textLength="74.23" lengthAdjust="spacingAndGlyphs">Nutrient</tspan> <tspan id="t182" x="1089.22" y="425" font-size="20.53" stroke-width="0.58" textLength="69.30" lengthAdjust="spacingAndGlyphs">Profiles</tspan> <tspan id="t183" x="1164.50" y="425" font-size="20.55" stroke-width="0.56" textLength="24.00" lengthAdjust="spacingAndGlyphs">for</tspan> <tspan id="t184" x="1194.95" y="425" font-size="20.55" stroke-width="0.56" textLength="46.55" lengthAdjust="spacingAndGlyphs">Adult</tspan> <tspan id="t185" x="1247.72" y="425" font-size="20.48" stroke-width="0.61" textLength="121.32" lengthAdjust="spacingAndGlyphs">Maintenance.</tspan></text>
</svg>
</body></html>
